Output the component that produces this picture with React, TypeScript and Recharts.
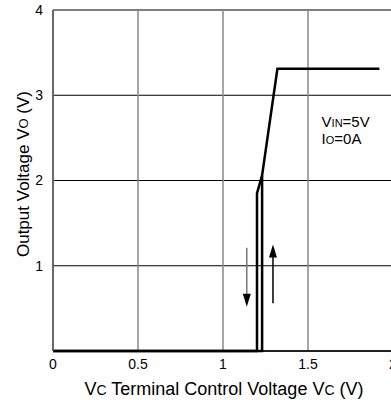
import { LineChart, Line, XAxis, YAxis, CartesianGrid, ReferenceLine, ReferenceDot } from 'recharts'

const X_TICKS = [0, 0.5, 1, 1.5, 2]
const Y_TICKS = [1, 2, 3, 4]

// rising branch (Vc increasing)
const risingVc = [0, 1.23, 1.23, 1.32, 1.92]
const risingVo = [0, 0, 2.06, 3.31, 3.31]
// falling branch (Vc decreasing)
const fallingVc = [1.23, 1.2, 1.2, 0]
const fallingVo = [2.06, 1.85, 0, 0]

const rising = risingVc.map((vc, i) => ({ vc, vo: risingVo[i] }))
const falling = fallingVc.map((vc, i) => ({ vc, vo: fallingVo[i] }))

const FONT = '"Liberation Sans", Arial, sans-serif'

function Arrow(props: any) {
  const { x1, y1, x2, y2, color } = props
  const dir = y2 > y1 ? 1 : -1
  return (
    <g>
      <line x1={x1} y1={y1} x2={x2} y2={y2 - dir * 10} stroke={color} strokeWidth={1.5} />
      <polygon points={`${x2 - 4},${y2 - dir * 13} ${x2 + 4},${y2 - dir * 13} ${x2},${y2}`} fill="#000" />
    </g>
  )
}

function Note(props: any) {
  const { cx, cy } = props
  return (
    <text x={cx} y={cy} fontFamily={FONT} fontSize={15} fill="#000">
      <tspan x={cx}>V<tspan fontSize={11}>IN</tspan>=5V</tspan>
      <tspan x={cx} dy={17}>I<tspan fontSize={11}>O</tspan>=0A</tspan>
    </text>
  )
}

export default function App() {
  return (
    <div style={{ position: 'absolute', left: 0, top: 0, width: 391, height: 403, overflow: 'hidden', background: '#fff' }}>
      <LineChart width={420} height={403} margin={{ top: 10, right: 27, left: 0, bottom: 0 }}>
        <CartesianGrid vertical={false} stroke="#000" strokeWidth={1} />
        <CartesianGrid horizontal={false} stroke="#888" strokeWidth={1.5} />
        <XAxis
          type="number"
          dataKey="vc"
          domain={[0, 2]}
          ticks={X_TICKS}
          tickLine={false}
          axisLine={{ stroke: '#000', strokeWidth: 1.5 }}
          tick={{ fontSize: 14, fill: '#000', fontFamily: FONT }}
          tickMargin={2}
          height={52}
          label={() => (
            <text x={224} y={395} textAnchor="middle" fontFamily={FONT} fontSize={18} fill="#000">
              V<tspan fontSize={14}>C</tspan> Terminal Control Voltage V<tspan fontSize={14}>C</tspan> (V)
            </text>
          )}
        />
        <YAxis
          type="number"
          dataKey="vo"
          domain={[0, 4]}
          ticks={Y_TICKS}
          tickLine={false}
          axisLine={{ stroke: '#555', strokeWidth: 1.5 }}
          tick={{ fontSize: 14, fill: '#000', fontFamily: FONT }}
          tickMargin={4}
          width={53}
          label={() => (
            <text x={23} y={174} transform="rotate(-90 23 174)" textAnchor="middle" dominantBaseline="central" fontFamily={FONT} fontSize={17} fill="#000">
              Output Voltage V<tspan fontSize={13}>O</tspan> (V)
            </text>
          )}
        />
        <Line data={rising} dataKey="vo" type="linear" stroke="#000" strokeWidth={2.5} dot={false} isAnimationActive={false} />
        <Line data={falling} dataKey="vo" type="linear" stroke="#000" strokeWidth={2.5} dot={false} isAnimationActive={false} />
        <ReferenceLine segment={[{ x: 1.14, y: 1.21 }, { x: 1.14, y: 0.52 }]} shape={(p: any) => <Arrow {...p} color="#777" />} />
        <ReferenceLine segment={[{ x: 1.294, y: 0.56 }, { x: 1.294, y: 1.25 }]} shape={(p: any) => <Arrow {...p} color="#000" />} />
        <ReferenceDot x={1.58} y={2.63} r={0} shape={(p: any) => <Note {...p} />} />
      </LineChart>
    </div>
  )
}
